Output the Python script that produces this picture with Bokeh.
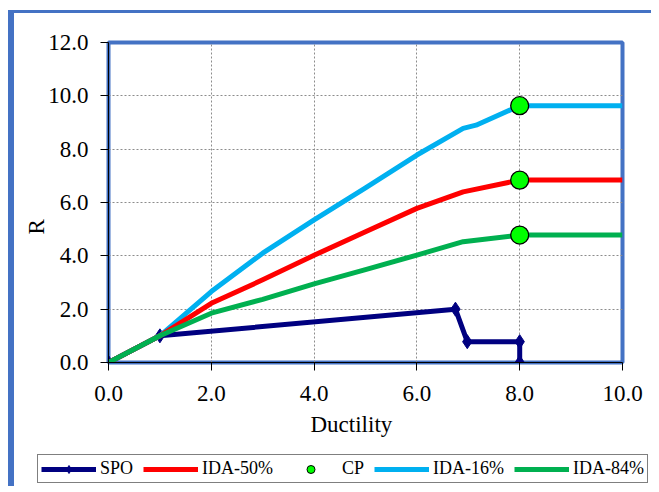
from bokeh.plotting import figure
from bokeh.layouts import column
from bokeh.models import Legend, LegendItem, NumeralTickFormatter, Title, FixedTicker, Range1d
from bokeh.embed import file_html
from bokeh.resources import INLINE

# ---- data ----
spo_x = [0.0, 1.0, 6.75, 6.98, 8.0, 8.0]
spo_y = [0.0, 1.0, 2.0, 0.78, 0.78, 0.0]

ida50_x = [0, 1, 2, 3, 4, 5, 6, 6.9, 8, 10]
ida50_y = [0, 1, 2.22, 3.1, 4.02, 4.9, 5.78, 6.4, 6.84, 6.84]

ida16_x = [0, 1, 2, 3, 4, 5, 6, 6.9, 7.15, 8, 10]
ida16_y = [0, 1, 2.66, 4.1, 5.35, 6.55, 7.78, 8.78, 8.9, 9.63, 9.63]

ida84_x = [0, 1, 2, 3, 4, 5, 6, 6.9, 8, 10]
ida84_y = [0, 1, 1.85, 2.37, 2.95, 3.48, 4.03, 4.53, 4.78, 4.78]

cp_x = [8.0, 8.0, 8.0]
cp_y = [9.63, 6.84, 4.78]

x_ticks = [0, 2, 4, 6, 8, 10]
y_ticks = [0, 2, 4, 6, 8, 10, 12]
series_names = ["SPO", "IDA-50%", "CP", "IDA-16%", "IDA-84%"]

FONT = "Liberation Serif"
BLUE = "#4472C4"
C_SPO, C_50, C_16, C_84, C_CP = "#000080", "#FF0000", "#00B0F0", "#00B050", "#00FF00"

p = figure(width=637, height=440, output_backend="svg", toolbar_location=None,
           x_range=Range1d(0, 10), y_range=Range1d(0, 12),
           min_border_left=94, min_border_right=29, min_border_top=29, min_border_bottom=91)
p.frame_align = False

p.outline_line_color = BLUE
p.outline_line_width = 4
p.background_fill_color = "white"
p.border_fill_color = "white"

for ax in (p.xaxis[0], p.yaxis[0]):
    ax.formatter = NumeralTickFormatter(format="0.0")
    ax.major_label_text_font = FONT
    ax.major_label_text_font_size = "23px"
    ax.major_label_text_color = "black"
    ax.axis_line_color = "black"
    ax.axis_line_width = 1
    ax.major_tick_line_color = "black"
    ax.major_tick_in = 0
    ax.major_tick_out = 8
    ax.minor_tick_line_color = None
p.xaxis[0].ticker = FixedTicker(ticks=x_ticks)
p.yaxis[0].ticker = FixedTicker(ticks=y_ticks)
p.xaxis[0].major_label_standoff = 15
p.yaxis[0].major_label_standoff = 12

for g in (p.xgrid[0], p.ygrid[0]):
    g.grid_line_color = "#8c8c8c"
    g.grid_line_dash = "2 2"
    g.grid_line_width = 1

p.line(spo_x, spo_y, line_color=C_SPO, line_width=5, line_join="round")
p.scatter(spo_x, spo_y, marker="diamond", size=14, fill_color=C_SPO, line_color=C_SPO)
p.line(ida16_x, ida16_y, line_color=C_16, line_width=5, line_join="round")
p.line(ida50_x, ida50_y, line_color=C_50, line_width=5, line_join="round")
p.line(ida84_x, ida84_y, line_color=C_84, line_width=5, line_join="round")
p.scatter(cp_x, cp_y, marker="circle", size=18, fill_color=C_CP, line_color="black", line_width=1.3)

# axis titles
p.add_layout(Title(text="Ductility", align="left", offset=202, standoff=12,
                   text_font=FONT, text_font_size="23px", text_font_style="normal",
                   text_color="black"), "below")
p.add_layout(Title(text="R", align="left", offset=128, standoff=-6,
                   text_font=FONT, text_font_size="23px", text_font_style="normal",
                   text_color="black"), "left")

# ---- legend strip (separate figure so it can sit outside the plot frame) ----
lg = figure(width=637, height=33, output_backend="svg", toolbar_location=None,
            x_range=Range1d(0, 1), y_range=Range1d(0, 1),
            x_axis_location=None, y_axis_location=None,
            min_border_left=0, min_border_right=0, min_border_top=0, min_border_bottom=0)
lg.frame_align = False
lg.grid.visible = False
lg.outline_line_color = None
lg.background_fill_color = "white"
lg.border_fill_color = "white"
off_x, off_y = [5, 6], [5, 6]   # outside the visible range: only legend glyphs show
d_spo = lg.line(off_x, off_y, line_color=C_SPO, line_width=5)
d_spo_m = lg.scatter(off_x, off_y, marker="diamond", size=13, fill_color=C_SPO, line_color=C_SPO)
d50 = lg.line(off_x, off_y, line_color=C_50, line_width=5)
dcp = lg.scatter(off_x, off_y, marker="circle", size=18, fill_color=C_CP, line_color="black", line_width=1)
d16 = lg.line(off_x, off_y, line_color=C_16, line_width=5)
d84 = lg.line(off_x, off_y, line_color=C_84, line_width=5)

legend = Legend(items=[
    LegendItem(label=series_names[0], renderers=[d_spo, d_spo_m]),
    LegendItem(label=series_names[1], renderers=[d50]),
    LegendItem(label=series_names[2], renderers=[dcp]),
    LegendItem(label=series_names[3], renderers=[d16]),
    LegendItem(label=series_names[4], renderers=[d84]),
], orientation="horizontal", location=(23, 3))
legend.label_text_font = FONT
legend.label_text_font_size = "18px"
legend.label_text_color = "black"
legend.glyph_width = 55
legend.glyph_height = 20
legend.label_height = 20
legend.label_standoff = 4
legend.spacing = 10
legend.padding = 3
legend.margin = 0
legend.border_line_color = "black"
legend.border_line_width = 1
legend.background_fill_color = "white"
legend.background_fill_alpha = 1
lg.add_layout(legend, "center")

layout = column(p, lg, spacing=0)
layout.styles = {"border-left": "6px solid " + BLUE, "border-top": "3px solid " + BLUE,
                 "margin-top": "10px", "margin-left": "8px"}

open("out.html", "w").write(file_html(layout, INLINE))
